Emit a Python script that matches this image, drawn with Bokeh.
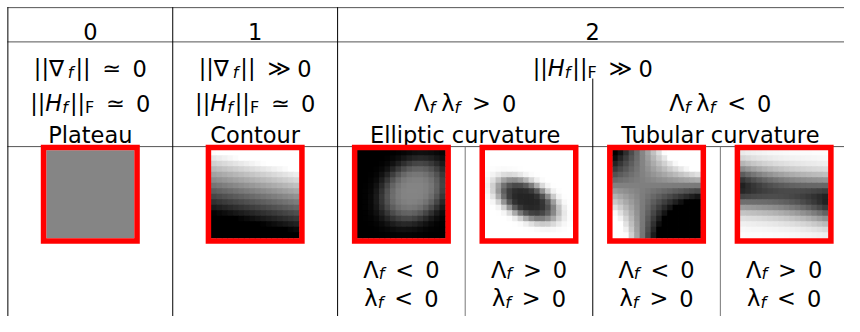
import numpy as np
from bokeh.plotting import figure
from bokeh.models import Range1d, ColumnDataSource
from bokeh.core.properties import value
from bokeh.embed import file_html
from bokeh.resources import INLINE

# ---------------- data ----------------
header_labels = ["0", "1", "2"]
class_names = ["Plateau", "Contour", "Elliptic curvature", "Tubular curvature"]

# math labels as (text, kind) segments: n = upright, i = italic, s = italic subscript, S = upright subscript, g = gap(px)
grad_labels = [
    [("||", "n"), ("∇", "n"), ("f", "s"), (2, "g"), ("||", "n"), (12, "g"), ("≃", "n"), (11, "g"), ("0", "n")],
    [("||", "n"), ("∇", "n"), ("f", "s"), (2, "g"), ("||", "n"), (12, "g"), ("≫", "n"), (11, "g"), ("0", "n")],
    [("||", "n"), ("H", "i"), ("f", "s"), (2, "g"), ("||", "n"), ("F", "S"), (12, "g"), ("≫", "n"), (11, "g"), ("0", "n")],
]
hess_labels = [
    [("||", "n"), ("H", "i"), ("f", "s"), (2, "g"), ("||", "n"), ("F", "S"), (12, "g"), ("≃", "n"), (11, "g"), ("0", "n")],
    [("||", "n"), ("H", "i"), ("f", "s"), (2, "g"), ("||", "n"), ("F", "S"), (12, "g"), ("≃", "n"), (11, "g"), ("0", "n")],
    [("Λ", "n"), ("f", "s"), (6, "g"), ("λ", "n"), ("f", "s"), (12, "g"), (">", "n"), (11, "g"), ("0", "n")],
    [("Λ", "n"), ("f", "s"), (6, "g"), ("λ", "n"), ("f", "s"), (12, "g"), ("<", "n"), (11, "g"), ("0", "n")],
]
big_sign = ["<", ">", "<", ">"]     # sign of Λf for the four curvature patches
small_sign = ["<", ">", ">", "<"]   # sign of λf

# image patch models (16 x 16 grey cells)
patch_kind = ["flat", "ramp", "blob", "blob", "saddle", "tube"]
patch_params = [
    {"level": 0.52},
    {"a": 0.02, "b": 0.22, "c": 0.70},
    {"base": 0.0, "amp": 0.52, "u0": 0.64, "v0": 0.47, "ang": -40, "s1": 0.40, "s2": 0.32, "p": 1.8},
    {"base": 1.0, "amp": -0.86, "u0": 0.48, "v0": 0.57, "ang": 28, "s1": 0.38, "s2": 0.20, "p": 2.0},
    {"k": 5.0, "u0": 0.33, "v0": 0.40},
    {"a0": 0.72, "a1": 0.18, "c0": 0.42, "c1": 0.15, "s": 0.18},
]

# ---------------- helpers ----------------
FONT = "DejaVu Sans"
FS = 22.5
SFS = 16
SUB = 4
W = {'|': 0.337, '∇': 0.838, 'f': 0.352, 'H': 0.752, 'F': 0.575, 'Λ': 0.684, 'λ': 0.592,
     '≃': 0.838, '≫': 0.838, '>': 0.838, '<': 0.838, '0': 0.636, ' ': 0.318}

PW, PH = 844, 316          # figure size in px
RW, RH = 860, 332          # reference frame in data units
SX, SY = PW / RW, PH / RH  # px per data unit

pieces = {k: {"x": [], "y": [], "t": []} for k in "niSs"}


def place(segs, cx, by):
    items = []
    x = 0.0
    for text, kind in segs:
        if kind == "g":
            x += text
            continue
        size = FS if kind in "ni" else SFS
        items.append((x, text, kind))
        x += sum(W.get(c, 0.6) for c in text) * size
    x0 = cx - (x / 2) / SX
    for dx, text, kind in items:
        pieces[kind]["x"].append(x0 + dx / SX)
        pieces[kind]["y"].append(by + ((SUB / SY) if kind in "sS" else 0))
        pieces[kind]["t"].append(text)


N = 16


def patch(kind, prm):
    u = (np.arange(N) + 0.5) / N
    uu, vv = np.meshgrid(u, u)  # vv increases downwards
    if kind == "flat":
        f = np.full((N, N), prm["level"])
    elif kind == "ramp":
        f = 1 - (vv - prm["a"] - prm["b"] * uu) / prm["c"]
    elif kind == "blob":
        t = np.deg2rad(prm["ang"])
        du, dv = uu - prm["u0"], vv - prm["v0"]
        d1 = du * np.cos(t) + dv * np.sin(t)
        d2 = -du * np.sin(t) + dv * np.cos(t)
        q = (d1 / prm["s1"]) ** 2 + (d2 / prm["s2"]) ** 2
        f = prm["base"] + prm["amp"] * np.exp(-q ** prm["p"])
    elif kind == "saddle":
        f = 0.5 - prm["k"] * (uu - prm["u0"]) * (vv - prm["v0"])
    else:
        amp = prm["a0"] + prm["a1"] * (2 * uu - 1) ** 2
        c = prm["c0"] + prm["c1"] * uu
        f = 1 - amp * np.exp(-0.5 * ((vv - c) / prm["s"]) ** 2)
    return np.clip(f, 0, 1)


# ---------------- layout ----------------
p = figure(width=PW, height=PH, x_range=Range1d(0, RW), y_range=Range1d(RH, 0),
           output_backend="svg", toolbar_location=None, min_border=0,
           x_axis_type=None, y_axis_type=None)
p.grid.visible = False
p.outline_line_color = None
p.background_fill_color = "white"
p.border_fill_color = "white"

col_edges = [7.5, 175.5, 343.5, 473.5, 603.5, 733.5, 863.5]
sub_centers = [(col_edges[i] + col_edges[i + 1]) / 2 for i in range(6)]
main_centers = [sub_centers[0], sub_centers[1], (col_edges[2] + col_edges[6]) / 2]
pair_centers = [sub_centers[0], sub_centers[1], col_edges[3], col_edges[5]]

# rules
p.segment(x0=[7, 7, 7], y0=[7.5, 43.5, 153.5], x1=[RW, RW, RW], y1=[7.5, 43.5, 153.5],
          line_color="#555555", line_width=1)
p.segment(x0=[col_edges[0], col_edges[1], col_edges[2], col_edges[4]],
          y0=[7, 7, 7, 82], x1=[col_edges[0], col_edges[1], col_edges[2], col_edges[4]],
          y1=[RH, RH, RH, RH], line_color="black", line_width=1)
p.segment(x0=[col_edges[3], col_edges[5]], y0=[153.5, 153.5],
          x1=[col_edges[3], col_edges[5]], y1=[RH, RH], line_color="#777777", line_width=1)

# plain text
p.text(x=main_centers, y=[33] * 3, text=header_labels, text_font=value(FONT),
       text_font_size=f"{FS}px", text_align="center", text_baseline="alphabetic", text_color="black")
p.text(x=pair_centers, y=[141] * 4, text=class_names, text_font=value(FONT),
       text_font_size=f"{FS}px", text_align="center", text_baseline="alphabetic", text_color="black")

# math texts
for segs, cx in zip(grad_labels, main_centers):
    place(segs, cx, 71)
for segs, cx in zip(hess_labels, pair_centers):
    place(segs, cx, 108)
for bs, ss, cx in zip(big_sign, small_sign, sub_centers[2:]):
    place([("Λ", "n"), ("f", "s"), (11, "g"), (bs, "n"), (11, "g"), ("0", "n")], cx, 283)
    place([("λ", "n"), ("f", "s"), (11, "g"), (ss, "n"), (11, "g"), ("0", "n")], cx, 313)

styles = {"n": (FS, "normal"), "i": (FS, "italic"), "s": (SFS, "italic"), "S": (SFS, "normal")}
for k, (size, style) in styles.items():
    d = pieces[k]
    if not d["t"]:
        continue
    p.text(x="x", y="y", text="t", source=ColumnDataSource(d), text_font=value(FONT),
           text_font_size=f"{size}px", text_font_style=style, text_align="left",
           text_baseline="alphabetic", text_color="black")

# image patches (sizes in screen px so they stay square)
inner = 88.0
cs = inner / N
cy = 203.5
xs, ys, cols, ws = [], [], [], []
for k, (kind, prm) in enumerate(zip(patch_kind, patch_params)):
    cx = sub_centers[k]
    if kind == "flat":
        g = int(round(prm["level"] * 255))
        xs.append(cx); ys.append(cy); cols.append("#%02x%02x%02x" % (g, g, g)); ws.append(inner)
        continue
    f = patch(kind, prm)
    for j in range(N):
        for i in range(N):
            g = int(round(f[j, i] * 255))
            xs.append(cx + (i + 0.5 - N / 2) * cs / SX)
            ys.append(cy + (j + 0.5 - N / 2) * cs / SY)
            cols.append("#%02x%02x%02x" % (g, g, g))
            ws.append(cs + 0.8)
p.rect(x=xs, y=ys, width=ws, height=ws, width_units="screen", height_units="screen",
       fill_color=cols, line_color=None)

frame = inner + 5.5
p.rect(x=sub_centers, y=[cy] * 6, width=frame, height=frame, width_units="screen",
       height_units="screen", fill_color=None, line_color="#ff0000", line_width=5.5,
       line_join="miter")

open("out.html", "w").write(file_html(p, INLINE))
